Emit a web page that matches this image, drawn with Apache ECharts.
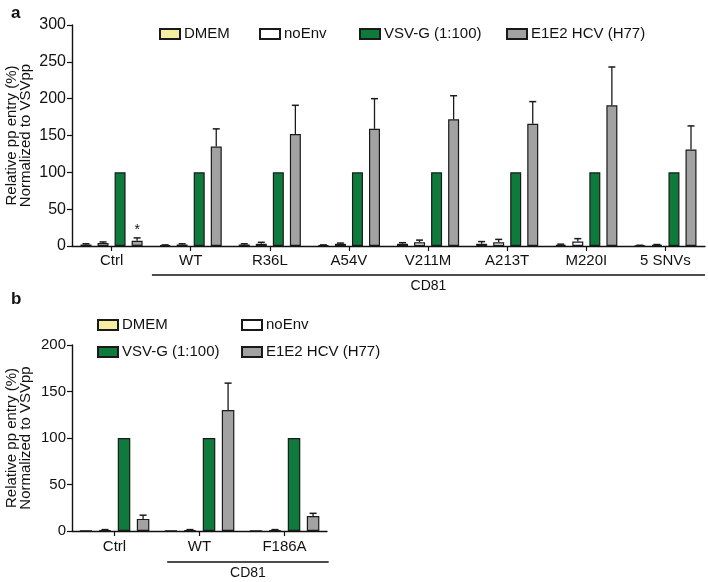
<!DOCTYPE html>
<html>
<head>
<meta charset="utf-8">
<script src="https://cdn.jsdelivr.net/npm/echarts@6/dist/echarts.min.js"></script>
<style>html,body{margin:0;padding:0;background:#fff}#c{width:708px;height:582px}</style>
</head>
<body>
<div id="c"></div>
<script>
// ---------- data ----------
var seriesNames = ['DMEM', 'noEnv', 'VSV-G (1:100)', 'E1E2 HCV (H77)'];

var catsA = ['Ctrl', 'WT', 'R36L', 'A54V', 'V211M', 'A213T', 'M220I', '5 SNVs'];
var dmemA = [2, 1, 2, 1, 3, 3, 1.5, 0.5];
var dmemErrA = [1, 0.5, 1, 0.5, 1.5, 3, 1, 0.5];
var noEnvA = [4, 2, 3, 3, 5, 5, 6, 1.5];
var noEnvErrA = [1.5, 1, 2, 1, 3, 4, 4, 0.5];
var vsvA = [100, 100, 100, 100, 100, 100, 100, 100];
var vsvErrA = [0, 0, 0, 0, 0, 0, 0, 0];
var e1e2A = [7, 135, 152, 159, 172, 166, 191, 131];
var e1e2ErrA = [4, 24, 39, 41, 32, 30, 52, 32];
var e1e2StarA = ['*', '', '', '', '', '', '', ''];
var yTicksA = [0, 50, 100, 150, 200, 250, 300];

var catsB = ['Ctrl', 'WT', 'F186A'];
var dmemB = [0.5, 0.5, 0.5];
var dmemErrB = [0, 0, 0];
var noEnvB = [1, 1, 1];
var noEnvErrB = [0.5, 0.5, 0.5];
var vsvB = [100, 100, 100];
var vsvErrB = [0, 0, 0];
var e1e2B = [13, 130, 16];
var e1e2ErrB = [4, 29, 3];
var yTicksB = [0, 50, 100, 150, 200];

var groupLabel = 'CD81';
var yTitle = 'Relative pp entry (%)\nNormalized to VSVpp';

// ---------- styles ----------
var colors = ['#f6eda2', '#ffffff', '#0e7b3d', '#a2a2a2'];
var FONT = 'Liberation Sans, Arial, sans-serif';
var catGapA = 0.215, barGapA = 0.55;
var catGapB = 0.18, barGapB = 0.52;

function pct(v) { return (v * 100) + '%'; }

function barSeries(name, idx, data, axisIdx, catGap, barGap) {
  return {
    type: 'bar', name: name, data: data,
    xAxisIndex: axisIdx, yAxisIndex: axisIdx,
    barCategoryGap: pct(catGap), barGap: pct(barGap),
    itemStyle: { color: colors[idx], borderColor: '#1a1a1a', borderWidth: 1.2 },
    emphasis: { disabled: true }
  };
}

function errSeries(axisIdx, catGap, barGap, valsList, errsList, stars) {
  var data = [];
  for (var s = 0; s < valsList.length; s++) {
    for (var i = 0; i < valsList[s].length; i++) {
      data.push([i, s, valsList[s][i], errsList[s][i], (s === 3 && stars) ? stars[i] : '']);
    }
  }
  var n = valsList.length;
  return {
    type: 'custom', xAxisIndex: axisIdx, yAxisIndex: axisIdx,
    data: data, silent: true, z: 3,
    encode: { x: 0, y: 2 },
    renderItem: function (params, api) {
      var ci = api.value(0), si = api.value(1), v = api.value(2), e = api.value(3);
      var band = api.size([1, 0])[0];
      var bw = band * (1 - catGap) / (n + (n - 1) * barGap);
      var groupW = bw * n + bw * barGap * (n - 1);
      var center = api.coord([ci, 0])[0];
      var x = center - groupW / 2 + si * bw * (1 + barGap) + bw / 2;
      var y0 = api.coord([ci, v])[1];
      var y1 = api.coord([ci, v + e])[1];
      var children = [];
      if (e > 0) {
        children.push({ type: 'line', shape: { x1: x, y1: y0, x2: x, y2: y1 }, style: { stroke: '#1a1a1a', lineWidth: 1.3 } });
        children.push({ type: 'line', shape: { x1: x - 3.5, y1: y1, x2: x + 3.5, y2: y1 }, style: { stroke: '#1a1a1a', lineWidth: 1.5 } });
      }
      var star = data[params.dataIndex][4];
      if (star) {
        children.push({ type: 'text', style: { text: star, x: x, y: y1 - 1, align: 'center', verticalAlign: 'bottom', fontSize: 14, fontFamily: FONT, fill: '#111' } });
      }
      return { type: 'group', children: children };
    }
  };
}

function legendItem(name, left, top) {
  return {
    data: [name], left: left, top: top, padding: 0, orient: 'horizontal',
    itemWidth: 20, itemHeight: 10, itemGap: 4, icon: 'rect', selectedMode: false,
    textStyle: { fontSize: 15, fontFamily: FONT, color: '#111', lineHeight: 16, padding: [0, 0, 0, -1] }
  };
}

var axisLine = { show: true, lineStyle: { color: '#111', width: 1.4 } };
var axisTick = { show: true, length: 5, lineStyle: { color: '#111', width: 1.2 } };

var option = {
  animation: false,
  backgroundColor: '#fff',
  textStyle: { fontFamily: FONT },
  title: [
    { text: 'a', left: 6, top: 0, textStyle: { fontSize: 17, fontWeight: 'bold', color: '#111', fontFamily: FONT } },
    { text: 'b', left: 6, top: 286, textStyle: { fontSize: 17, fontWeight: 'bold', color: '#111', fontFamily: FONT } }
  ],
  legend: [
    legendItem(seriesNames[0], 159, 26),
    legendItem(seriesNames[1], 259, 26),
    legendItem(seriesNames[2], 359, 26),
    legendItem(seriesNames[3], 506, 26),
    legendItem(seriesNames[0], 97, 317),
    legendItem(seriesNames[1], 241, 317),
    legendItem(seriesNames[2], 97, 344),
    legendItem(seriesNames[3], 241, 344)
  ],
  grid: [
    { left: 72, width: 633, top: 25, height: 221, containLabel: false, outerBoundsMode: 'none' },
    { left: 72, width: 255, top: 345, height: 186, containLabel: false, outerBoundsMode: 'none' }
  ],
  xAxis: [
    { type: 'category', gridIndex: 0, data: catsA, axisLine: axisLine, axisTick: Object.assign({ alignWithLabel: true }, axisTick),
      axisLabel: { fontSize: 15, color: '#111', margin: 7, fontFamily: FONT, interval: 0 } },
    { type: 'category', gridIndex: 1, data: catsB, axisLine: axisLine, axisTick: Object.assign({ alignWithLabel: true }, axisTick),
      axisLabel: { fontSize: 15, color: '#111', margin: 8, fontFamily: FONT, interval: 0 } }
  ],
  yAxis: [
    { type: 'value', gridIndex: 0, min: yTicksA[0], max: yTicksA[yTicksA.length - 1], interval: 50,
      axisLine: axisLine, axisTick: axisTick, splitLine: { show: false },
      axisLabel: { fontSize: 16, color: '#111', margin: 6, fontFamily: FONT },
      name: yTitle, nameLocation: 'middle', nameRotate: 90, nameGap: 39, nameMoveOverlap: false,
      nameTextStyle: { fontSize: 15, color: '#111', lineHeight: 14, fontFamily: FONT } },
    { type: 'value', gridIndex: 1, min: yTicksB[0], max: yTicksB[yTicksB.length - 1], interval: 50,
      axisLine: axisLine, axisTick: axisTick, splitLine: { show: false },
      axisLabel: { fontSize: 15, color: '#111', margin: 6, fontFamily: FONT },
      name: yTitle, nameLocation: 'middle', nameRotate: 90, nameGap: 39, nameMoveOverlap: false,
      nameTextStyle: { fontSize: 15, color: '#111', lineHeight: 14, fontFamily: FONT } }
  ],
  series: [
    barSeries(seriesNames[0], 0, dmemA, 0, catGapA, barGapA),
    barSeries(seriesNames[1], 1, noEnvA, 0, catGapA, barGapA),
    barSeries(seriesNames[2], 2, vsvA, 0, catGapA, barGapA),
    barSeries(seriesNames[3], 3, e1e2A, 0, catGapA, barGapA),
    errSeries(0, catGapA, barGapA, [dmemA, noEnvA, vsvA, e1e2A], [dmemErrA, noEnvErrA, vsvErrA, e1e2ErrA], e1e2StarA),
    barSeries(seriesNames[0], 0, dmemB, 1, catGapB, barGapB),
    barSeries(seriesNames[1], 1, noEnvB, 1, catGapB, barGapB),
    barSeries(seriesNames[2], 2, vsvB, 1, catGapB, barGapB),
    barSeries(seriesNames[3], 3, e1e2B, 1, catGapB, barGapB),
    errSeries(1, catGapB, barGapB, [dmemB, noEnvB, vsvB, e1e2B], [dmemErrB, noEnvErrB, vsvErrB, e1e2ErrB], null)
  ]
};

var chart = echarts.init(document.getElementById('c'), null, { renderer: 'canvas' });
chart.setOption(option);

// group bracket "CD81" under the mutant categories, positioned through the axes
function bracket(axisIdx, firstIdx, lastIdx, leftFrac, rightFrac, yOff) {
  var p0 = chart.convertToPixel({ xAxisIndex: axisIdx, yAxisIndex: axisIdx }, [firstIdx, 0]);
  var p1 = chart.convertToPixel({ xAxisIndex: axisIdx, yAxisIndex: axisIdx }, [lastIdx, 0]);
  var pPrev = chart.convertToPixel({ xAxisIndex: axisIdx, yAxisIndex: axisIdx }, [firstIdx - 1, 0]);
  var band = p0[0] - pPrev[0];
  var xl = p0[0] - band * leftFrac, xr = p1[0] + band * rightFrac;
  var y = p0[1] + yOff;
  return [
    { type: 'line', shape: { x1: xl, y1: y, x2: xr, y2: y }, style: { stroke: '#111', lineWidth: 1.3 } },
    { type: 'text', style: { text: groupLabel, x: (xl + xr) / 2, y: y + 4, align: 'center', verticalAlign: 'top', fontSize: 14, fontFamily: FONT, fill: '#111' } }
  ];
}
chart.setOption({
  graphic: bracket(0, 1, catsA.length - 1, 0.49, 0.5, 29)
    .concat(bracket(1, 1, catsB.length - 1, 0.38, 0.52, 31))
});
</script>
</body>
</html>
